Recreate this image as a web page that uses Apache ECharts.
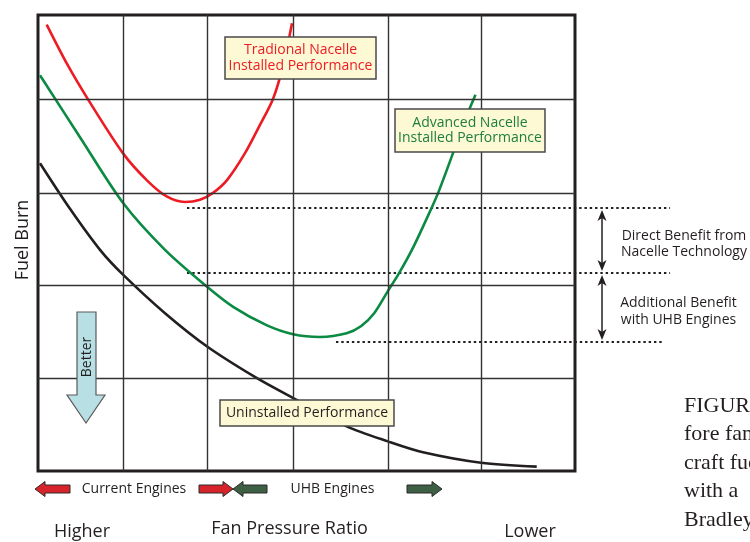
<!DOCTYPE html>
<html><head><meta charset="utf-8">
<script src="https://cdn.jsdelivr.net/npm/echarts@6/dist/echarts.min.js"></script>
<style>html,body{margin:0;padding:0;background:#fff}#c{width:750px;height:542px}</style>
</head><body><div id="c"></div>
<script>
// Units: x = % of plot width from left (higher FPR -> lower FPR), y = % of plot height (fuel burn)
const redTraditional = [[1.61,97.9],[5.49,89.1],[9.37,81.4],[15.88,69.6],[20.24,63.8],[23.97,60.2],[27.37,59.0],[30.17,59.5],[32.59,61.0],[35.20,63.8],[38.55,69.7],[41.34,75.9],[43.76,81.6],[45.62,88.8],[47.30,98.2]];
const greenAdvanced = [[0.37,86.8],[7.82,73.2],[15.89,58.7],[23.65,48.5],[31.49,40.4],[36.34,36.0],[42.55,32.0],[47.51,30.0],[52.51,29.4],[57.48,30.2],[60.20,31.8],[62.60,34.6],[65.12,39.4],[67.10,43.1],[69.89,49.1],[73.33,57.8],[74.72,61.6],[77.28,69.7],[79.14,75.9],[81.47,82.5]];
const blackUninstalled = [[0.37,67.5],[5.96,57.5],[11.55,48.5],[15.88,43.0],[23.65,34.6],[31.49,27.3],[40.70,20.4],[47.51,16.0],[57.48,9.8],[65.12,6.5],[71.69,4.1],[82.50,1.8],[92.87,0.95]];
const directLevelTop = [[27.74,57.7],[117.7,57.7]];
const directLevelMid = [[27.74,43.4],[117.7,43.4]];
const uhbLevel = [[55.49,28.3],[116.4,28.3]];
const benefitArrowX = 105.03;
const gridX = [15.83,31.47,47.49,65.18,82.50];
const gridY = [20.39,40.79,60.96,81.58];

const FONT = '"Open Sans", "Noto Sans", sans-serif';
const chart = echarts.init(document.getElementById('c'), null, {renderer:'canvas'});

// plot area: 537 px wide for 100 units; the wide overlay grid runs to the page edge at the same scale
const PLOT_W = 537, WIDE_W = 712;
const hiddenAxis = {axisLine:{show:false}, axisTick:{show:false}, axisLabel:{show:false}, splitLine:{show:false}};

const dotted = (name, data) => ({
  name, type:'line', data, xAxisIndex:1, yAxisIndex:1, symbol:'none', silent:true, z:3,
  lineStyle:{color:'#231f20', width:2, type:[2.4,2.9]}
});
const curve = (name, data, color) => ({
  name, type:'line', data, smooth:0.3, symbol:'none', silent:true, z:4,
  lineStyle:{color, width:2.6}
});

chart.setOption({
  animation:false,
  grid:[
    {left:38, right:175, top:15, bottom:71, show:true, borderColor:'#231f20', borderWidth:3, backgroundColor:'#fff'},
    {left:38, right:0, top:15, bottom:71, show:false}
  ],
  xAxis:[
    Object.assign({type:'value', min:0, max:100, gridIndex:0}, hiddenAxis),
    Object.assign({type:'value', min:0, max:100*WIDE_W/PLOT_W, gridIndex:1}, hiddenAxis)
  ],
  yAxis:[
    Object.assign({type:'value', min:0, max:100, gridIndex:0}, hiddenAxis),
    Object.assign({type:'value', min:0, max:100, gridIndex:1}, hiddenAxis)
  ],
  series:[
    {type:'line', data:[], silent:true, z:2,
     markLine:{silent:true, symbol:'none', label:{show:false}, animation:false,
       lineStyle:{color:'#333', width:1.4, type:'solid'},
       emphasis:{disabled:true},
       data:[...gridX.map(v=>({xAxis:v})), ...gridY.map(v=>({yAxis:v}))]}},
    dotted('Direct top', directLevelTop),
    dotted('Direct mid', directLevelMid),
    dotted('UHB', uhbLevel),
    curve('Uninstalled Performance', blackUninstalled, '#231f20'),
    curve('Advanced Nacelle Installed Performance', greenAdvanced, '#0b8a43'),
    curve('Tradional Nacelle Installed Performance', redTraditional, '#ed1c24')
  ]
});

function hArrow(tip, tail, cy, fill){
  const dir = tail > tip ? 1 : -1, hb = tip + dir*10;
  return {type:'polygon', z:100, shape:{points:[[tip,cy],[hb,cy-7.5],[hb,cy-4],[tail,cy-4],[tail,cy+4],[hb,cy+4],[hb,cy+7.5]]},
    style:{fill, stroke:'#2a2a2a', lineWidth:1}};
}
function vDoubleArrow(x, y1, y2){
  const a = y1 + 2, b = y2 - 2;
  return [
    {type:'line', z:100, shape:{x1:x,y1:a+6,x2:x,y2:b-6}, style:{stroke:'#231f20', lineWidth:1.5}},
    {type:'polygon', z:100, shape:{points:[[x,a],[x-4.5,a+11],[x,a+8],[x+4.5,a+11]]}, style:{fill:'#231f20'}},
    {type:'polygon', z:100, shape:{points:[[x,b],[x-4.5,b-11],[x,b-8],[x+4.5,b-11]]}, style:{fill:'#231f20'}}
  ];
}
function txt(text, x, y, opts){
  return {type:'text', z:101, x, y, style:Object.assign({text, font:'14px '+FONT, fill:'#231f20', align:'center', verticalAlign:'middle'}, opts||{})};
}
function box(x,y,w,h){
  return {type:'rect', z:100, shape:{x,y,width:w,height:h}, style:{fill:'#fdf9d5', stroke:'#4a4a4a', lineWidth:1.5}};
}

const px = (xv,yv) => chart.convertToPixel({xAxisIndex:1, yAxisIndex:1}, [xv,yv]);
const pTop = px(benefitArrowX, directLevelTop[0][1]);
const pMid = px(benefitArrowX, directLevelMid[0][1]);
const pUhb = px(benefitArrowX, uhbLevel[0][1]);

const g = [
  box(225,37,151,42),
  txt('Tradional Nacelle\nInstalled Performance', 300.5, 58, {fill:'#ed1c24', lineHeight:16}),
  box(395,109,150,43),
  txt('Advanced Nacelle\nInstalled Performance', 470, 130.5, {fill:'#1e7d3f', lineHeight:15.5}),
  box(220,400,174,26),
  txt('Uninstalled Performance', 307, 413),
  {type:'polygon', z:100, shape:{points:[[77,312],[96,312],[96,395],[105,395],[86,423],[67,395],[77,395]]},
    style:{fill:'#b7dfe4', stroke:'#5a5a5a', lineWidth:1.2}},
  Object.assign(txt('Better', 87, 357, {font:'14px '+FONT}), {rotation:Math.PI/2}),
  ...vDoubleArrow(pTop[0], pTop[1], pMid[1]),
  ...vDoubleArrow(pMid[0], pMid[1], pUhb[1]),
  txt('Direct Benefit from\nNacelle Technology', 684, 244, {lineHeight:16}),
  txt('Additional Benefit\nwith UHB Engines', 678.5, 311.5, {lineHeight:16.5}),
  hArrow(35,70,489,'#d7242a'),
  txt('Current Engines', 134, 489),
  hArrow(233,199,489,'#d7242a'),
  hArrow(233,267,489,'#3d5f43'),
  txt('UHB Engines', 332.5, 489),
  hArrow(442,407,489,'#3d5f43'),
  txt('Higher', 82, 532, {font:'18px '+FONT}),
  txt('Fan Pressure Ratio', 289.5, 529, {font:'18px '+FONT}),
  txt('Lower', 530, 532, {font:'18px '+FONT}),
  Object.assign(txt('Fuel Burn', 23, 240, {font:'18px '+FONT}), {rotation:Math.PI/2}),
  ...['FIGURE','fore fan','craft fuel','with a','Bradley'].map((t,i)=>
    txt(t, 684, 406 + i*28.5, {font:'22px "Liberation Serif", "Times New Roman", serif', align:'left', fill:'#231f20'}))
];
chart.setOption({graphic:g});
</script>
</body></html>
